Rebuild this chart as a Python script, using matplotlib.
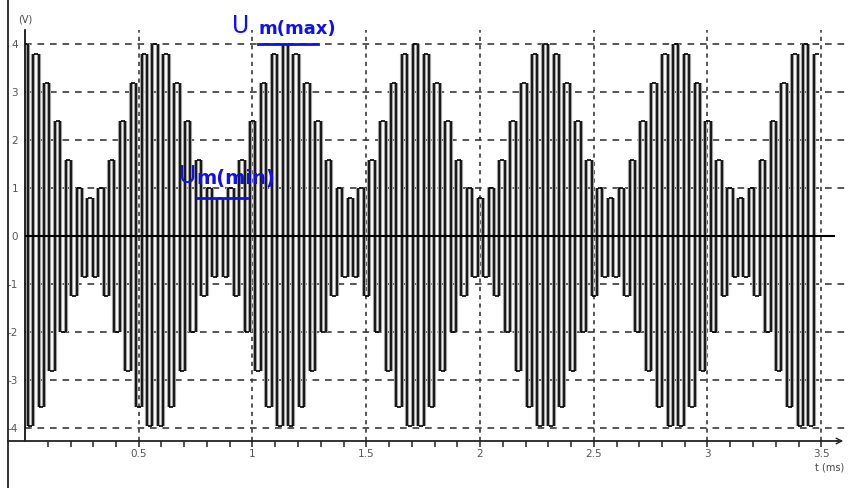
import numpy as np
import matplotlib
matplotlib.use("Agg")
import matplotlib.pyplot as plt
from matplotlib.lines import Line2D

# ---- data ----
# extreme value of each carrier half-cycle over one modulation period (V)
peaks_one_period = [4.0, -3.95, 3.8, -3.55, 3.2, -2.8, 2.4, -2.0, 1.6, -1.25, 1.0, -0.85,
                    0.8, -0.85, 1.0, -1.25, 1.6, -2.0, 2.4, -2.8, 3.2, -3.55, 3.8, -3.95]
modulation_period_ms = 0.572
n_half_cycles = 147
x_tick_values = [0.5, 1, 1.5, 2, 2.5, 3, 3.5]
x_tick_labels = ["0.5", "1", "1.5", "2", "2.5", "3", "3.5"]
y_tick_values = [4, 3, 2, 1, 0, -1, -2, -3, -4]
y_tick_labels = ["4", "3", "2", "1", "0", "-1", "-2", "-3", "-4"]

half_cycle = modulation_period_ms / len(peaks_one_period)
t = np.arange(n_half_cycles) * half_cycle
u = np.resize(np.array(peaks_one_period), n_half_cycles)

W, H = 848, 488
fig = plt.figure(figsize=(W / 100, H / 100), dpi=100)
fig.patch.set_facecolor("white")

def fx(p):
    return p / W

def fy(p):
    return 1 - p / H

ax = fig.add_axes([fx(25), fy(441), fx(848) - fx(25), fy(30) - fy(441)])
ax.set_xlim(0, 823 / 227.5)
ax.set_ylim(-4.265, 4.30)
for s in ["top", "right", "bottom"]:
    ax.spines[s].set_visible(False)
ax.spines["left"].set_color("black")
ax.spines["left"].set_linewidth(1.2)

grid_col = "#3a3a3a"
for yv in [1, 2, 3, 4, -1, -2, -3, -4]:
    ax.axhline(yv, color=grid_col, lw=1.2, ls=(0, (4, 3.5)), zorder=1)
for xv in x_tick_values:
    ax.axvline(xv, color=grid_col, lw=1.2, ls=(0, (2.5, 2.5)), zorder=1)

# waveform: each carrier half-cycle drawn as a steep edge between successive extremes
edge_t = t[:-1] + half_cycle / 2
ax.vlines(edge_t, u[:-1], u[1:], color="#a0a0a0", lw=3.0, zorder=2)
ax.vlines(edge_t, u[:-1], u[1:], color="black", lw=1.2, zorder=3)
ax.plot(t, u, ls="none", marker="_", ms=3.5, mew=1.2, color="black", zorder=3)

ax.hlines(0, 0, 3.56, color="black", lw=1.5, zorder=4)

ax.set_xticks(x_tick_values)
ax.set_xticklabels(x_tick_labels)
ax.set_xticks(np.arange(0.1, 3.51, 0.1), minor=True)
ax.tick_params(axis="x", which="both", direction="out", length=4, width=1.2,
               color="#333333", labelsize=7.5, labelcolor="#555555", pad=2)
ax.set_yticks(y_tick_values)
ax.set_yticklabels(y_tick_labels)
ax.tick_params(axis="y", which="both", length=0, labelsize=7.5,
               labelcolor="#555555", pad=5)

# frame lines outside axes
fig.add_artist(Line2D([fx(8), fx(838)], [fy(441), fy(441)], color="#222222", lw=1.3))
fig.add_artist(Line2D([fx(8), fx(8)], [0, 1], color="#222222", lw=1.3))
ax.annotate("", xy=(fx(846), fy(441)), xytext=(fx(834), fy(441)),
            xycoords="figure fraction", textcoords="figure fraction",
            arrowprops=dict(arrowstyle="->", color="#222222", lw=1.0))

fig.text(fx(830), fy(467), "t (ms)", fontsize=7, color="#444444", ha="center", va="center")
fig.text(fx(25), fy(19), "(V)", fontsize=7, color="#444444", ha="center", va="center")

blue = "#1010ee"
fig.text(fx(232), fy(33), "U", fontsize=17, color=blue, ha="left", va="baseline")
fig.text(fx(258), fy(34), "m(max)", fontsize=13, fontweight="bold", color=blue,
         ha="left", va="baseline")
fig.add_artist(Line2D([fx(258), fx(318)], [fy(44), fy(44)], color=blue, lw=2))

fig.text(fx(179), fy(183), "U", fontsize=17, color=blue, ha="left", va="baseline")
fig.text(fx(196), fy(184), "m(min)", fontsize=14, fontweight="semibold", color=blue,
         ha="left", va="baseline")
fig.add_artist(Line2D([fx(197), fx(247)], [fy(198), fy(198)], color=blue, lw=2))

fig.savefig("out.png", dpi=100)
